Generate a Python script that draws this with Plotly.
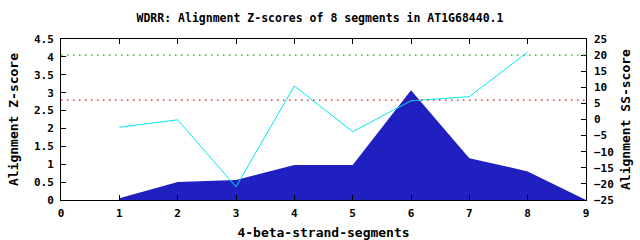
import plotly.graph_objects as go

segments = [1, 2, 3, 4, 5, 6, 7, 8, 9]
z_scores = [0.05, 0.50, 0.56, 0.98, 0.98, 3.07, 1.17, 0.80, 0.0]
ss_segments = [1, 2, 3, 4, 5, 6, 7, 8]
ss_scores = [-2.4, -0.1, -20.9, 10.4, -3.8, 5.8, 7.1, 20.9]
red_threshold = 6.0
green_threshold = 20.0
x_ticks = [0, 1, 2, 3, 4, 5, 6, 7, 8, 9]
y_ticks = [0, 0.5, 1, 1.5, 2, 2.5, 3, 3.5, 4, 4.5]
y2_ticks = [-25, -20, -15, -10, -5, 0, 5, 10, 15, 20, 25]

font = dict(family="DejaVu Sans Mono", size=11, color="black", weight="bold")

fig = go.Figure()
fig.add_trace(go.Scatter(x=segments, y=z_scores, mode="lines", fill="tozeroy",
                         fillcolor="#2020c0", line=dict(color="#2020c0", width=0),
                         showlegend=False))
fig.add_trace(go.Scatter(x=ss_segments, y=ss_scores, mode="lines", yaxis="y2",
                         line=dict(color="#00e8f0", width=1), showlegend=False))

for val, col in [(red_threshold, "#ff0000"), (green_threshold, "#00c000")]:
    fig.add_shape(type="line", xref="x", yref="y2", x0=0, x1=9, y0=val, y1=val,
                  line=dict(color=col, width=1.3, dash="1.5px,4.5px"))

fig.update_layout(
    width=640, height=240,
    margin=dict(l=61, r=54, t=39, b=40),
    paper_bgcolor="white", plot_bgcolor="white",
    font=font,
    title=dict(text="WDRR: Alignment Z-scores of 8 segments in AT1G68440.1",
               x=0.5, xanchor="center", y=1 - 18 / 240, yanchor="middle",
               font=dict(family="DejaVu Sans Mono", size=11.5, weight="bold")),
    xaxis=dict(range=[0, 9], tickvals=x_ticks, ticks="inside", ticklen=5,
               tickcolor="black", showline=True, linecolor="black", linewidth=1,
               mirror="ticks", showgrid=False, zeroline=False, automargin=False,
               ticklabelstandoff=3,
               title=dict(text="4-beta-strand-segments", standoff=12)),
    yaxis=dict(range=[0, 4.5], tickvals=y_ticks, ticktext=[str(v) for v in y_ticks],
               ticks="inside", ticklen=5, tickcolor="black", showline=True,
               linecolor="black", linewidth=1, mirror=True, showgrid=False,
               zeroline=False, automargin=False, ticklabelstandoff=4,
               title=dict(text="Alignment Z-score", standoff=12)),
    yaxis2=dict(range=[-25, 25], tickvals=y2_ticks, overlaying="y", side="right",
                ticks="inside", ticklen=5, tickcolor="black", showline=False,
                showgrid=False, zeroline=False, automargin=False,
                ticklabelstandoff=7,
                title=dict(text="Alignment SS-score", standoff=8)),
)

fig.write_html("out.html")
